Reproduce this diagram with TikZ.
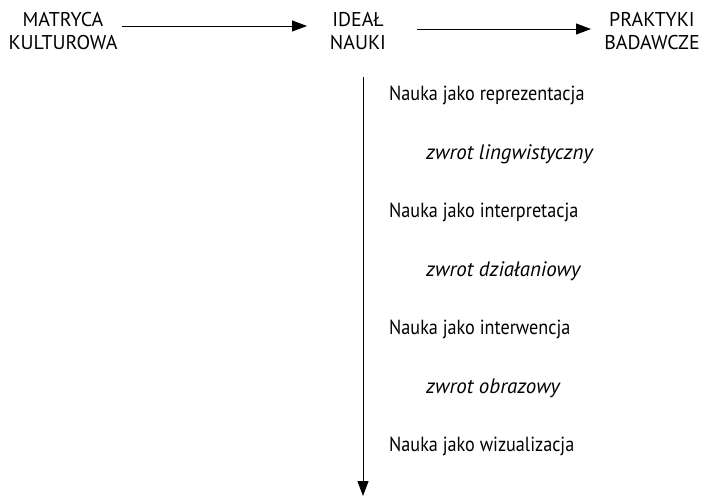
\documentclass[tikz,border=0pt]{standalone}
\usepackage{fontspec}
\setmainfont{PT Sans}
\newfontfamily\listafont{PT Sans}[FakeStretch=0.89]
\usetikzlibrary{calc, arrows.meta, positioning}

\tikzset{
	etap/.style={align=center, inner sep=0pt, font=\fontsize{20}{23.5}\selectfont},
	pozycja/.style={anchor=west, inner sep=0pt, font=\listafont\fontsize{20.5}{23}\selectfont},
	zwrot/.style={anchor=west, inner sep=0pt, font=\fontsize{21}{23}\selectfont\itshape},
	strzalka/.style={line width=0.9bp, -{Triangle[length=15bp,width=11bp]}}
}

\begin{document}
\begin{tikzpicture}[x=1bp, y=-1bp]
		\useasboundingbox (0, 0) rectangle (704, 496);
		\node[etap] (matryca) at (63, 31) {MATRYCA\\KULTUROWA};
		\node[etap] (ideal) at (358, 31) {IDEAŁ\\NAUKI};
		\node[etap] (praktyki) at (652, 31) {PRAKTYKI\\BADAWCZE};
		\coordinate (m1) at (122, 26);
		\coordinate (m2) at (307, 26);
		\coordinate (p1) at (417, 29);
		\coordinate (p2) at (591, 29);
		\coordinate (os1) at (363, 77);
		\coordinate (os2) at (363, 496);
		\draw[strzalka] (m1) -- (m2);
		\draw[strzalka] (p1) -- (p2);
		\draw[strzalka] (os1) -- (os2);
		\node[pozycja] (rep) at (389, 95) {Nauka jako reprezentacja};
		\node[zwrot] (ling) at (426, 154) {zwrot lingwistyczny};
		\node[pozycja] (interp) at (389, 212) {Nauka jako interpretacja};
		\node[zwrot] (dzial) at (426, 271) {zwrot działaniowy};
		\node[pozycja] (interw) at (389, 329) {Nauka jako interwencja};
		\node[zwrot] (obraz) at (426, 388) {zwrot obrazowy};
		\node[pozycja] (wiz) at (389, 446) {Nauka jako wizualizacja};
	\end{tikzpicture}
\end{document}
